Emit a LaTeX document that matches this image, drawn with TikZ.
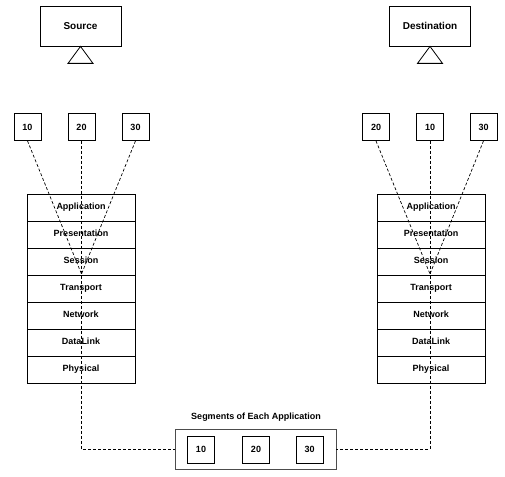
\documentclass[tikz,border=0pt]{standalone}
\usepackage{fontspec}
\setmainfont{Liberation Sans}
\begin{document}
\begin{tikzpicture}[x=1pt,y=-1pt,
  every node/.style={font=\bfseries\fontsize{9}{11}\selectfont, line width=0.8pt},
  numbox/.style={draw, minimum width=27pt, minimum height=27pt, inner sep=0pt},
  host/.style={draw, minimum width=81pt, minimum height=40pt, inner sep=0pt, font=\bfseries\fontsize{10}{12}\selectfont},
  layer/.style={draw, minimum width=108pt, minimum height=27pt, inner sep=0pt, text height=6.5pt, text depth=2pt},
  segbox/.style={draw=black!70, minimum width=161pt, minimum height=40pt, inner sep=0pt},
  link/.style={dash pattern=on 3pt off 2pt, line width=0.7pt}]
\useasboundingbox (0,0) rectangle (505,476);
% hosts
\node[host] (src) at (80.5,26) {Source};
\node[host] (dst) at (430,26) {Destination};
\draw[line width=0.8pt] (src.south) -- ++(-12.5,17) -- ++(25,0) -- cycle;
\draw[line width=0.8pt] (dst.south) -- ++(-12.5,17) -- ++(25,0) -- cycle;
% application boxes
\node[numbox] (a10) at (27.5,127) {10};
\node[numbox] (a20) at (81.5,127) {20};
\node[numbox] (a30) at (135.5,127) {30};
\node[numbox] (b20) at (376,127) {20};
\node[numbox] (b10) at (430,127) {10};
\node[numbox] (b30) at (483.5,127) {30};
% stacks
\foreach \t [count=\i] in {Application,Presentation,Session,Transport,Network,DataLink,Physical} {
  \node[layer] (L\i) at (81,180.5+27*\i) {\t};
  \node[layer] (R\i) at (431,180.5+27*\i) {\t};
}
% segments
\node (seglabel) at (256,417) {Segments of Each Application};
\node[segbox] (seg) at (255.5,449) {};
\node[numbox] (s10) at (201,449.5) {10};
\node[numbox] (s20) at (256,449.5) {20};
\node[numbox] (s30) at (309.5,449.5) {30};
% connectors
\coordinate (la) at (81.5,274);
\coordinate (ra) at (430,274);
\draw[link] (a10.south) -- (la);
\draw[link] (a30.south) -- (la);
\draw[link] (a20.south) |- (seg.west);
\draw[link] (b20.south) -- (ra);
\draw[link] (b30.south) -- (ra);
\draw[link] (b10.south) |- (seg.east);
\end{tikzpicture}
\end{document}
